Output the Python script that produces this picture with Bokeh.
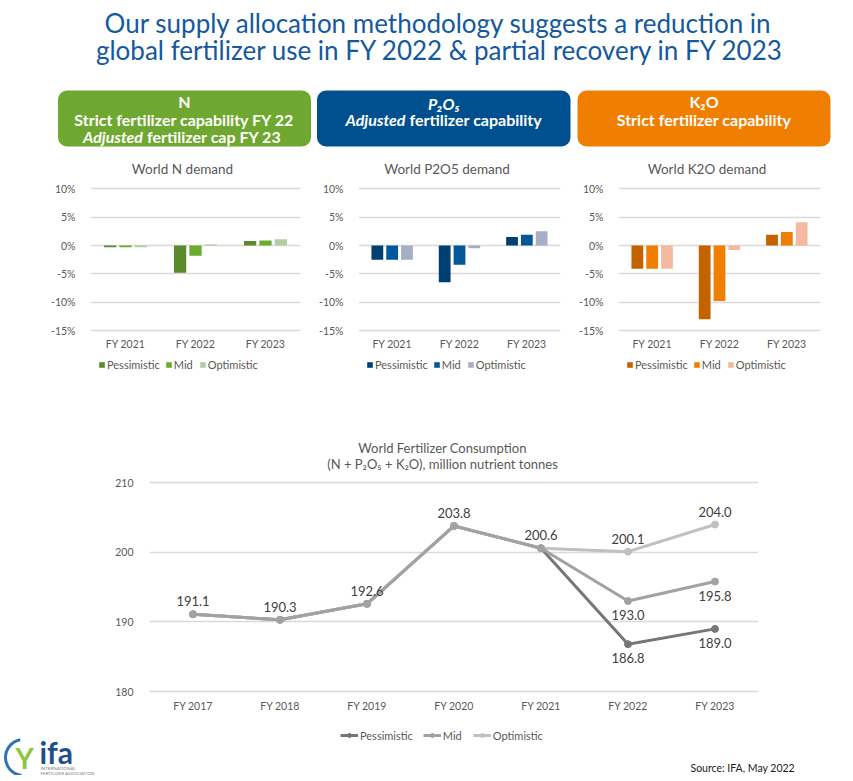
from bokeh.plotting import figure
from bokeh.models import (ColumnDataSource, FactorRange, Range1d, Legend, LegendItem,
                          Title, LabelSet, FixedTicker, PrintfTickFormatter)
from bokeh.layouts import row
from bokeh.transform import dodge
from bokeh.core.properties import value
from bokeh.embed import file_html
from bokeh.resources import INLINE

FONT = "Lato"
GREY_TXT = "#595959"
GRID = "#d9d9d9"

# ---------------- data ----------------
headline = ["Our supply allocation methodology suggests a reduction in",
            "global fertilizer use in FY 2022 & partial recovery in FY 2023"]

bar_years = ["FY 2021", "FY 2022", "FY 2023"]
scenarios = ["Pessimistic", "Mid", "Optimistic"]
pct_ticks = [-15, -10, -5, 0, 5, 10]

n_pess = [-0.3, -4.8, 0.8]
n_mid = [-0.3, -1.8, 0.9]
n_opt = [-0.3, 0.2, 1.1]

p_pess = [-2.5, -6.5, 1.5]
p_mid = [-2.5, -3.4, 1.9]
p_opt = [-2.5, -0.5, 2.5]

k_pess = [-4.1, -13.0, 1.9]
k_mid = [-4.1, -9.8, 2.4]
k_opt = [-4.1, -0.8, 4.1]

line_years = ["FY 2017", "FY 2018", "FY 2019", "FY 2020", "FY 2021", "FY 2022", "FY 2023"]
cons_pess = [191.1, 190.3, 192.6, 203.8, 200.6, 186.8, 189.0]
cons_mid = [191.1, 190.3, 192.6, 203.8, 200.6, 193.0, 195.8]
cons_opt = [191.1, 190.3, 192.6, 203.8, 200.6, 200.1, 204.0]
cons_ticks = [180, 190, 200, 210]
line_title = ["World Fertilizer Consumption",
              "(N + P\u2082O\u2085 + K\u2082O), million nutrient tonnes"]
source_text = "Source: IFA, May 2022"

# ---------------- header (title + coloured boxes) ----------------
hdr = figure(width=850, height=155, x_range=Range1d(0, 850), y_range=Range1d(155, 0),
             output_backend="svg", toolbar_location=None, x_axis_location=None,
             y_axis_location=None, min_border=0, outline_line_color=None, title=None,
             frame_align=False)
hdr.grid.visible = False

hdr.text(x=[438, 440], y=[22, 49], text=headline, text_font=value(FONT),
         text_font_size="26px", text_color="#14599d", text_align="center",
         text_baseline="middle")

hdr.quad(left=[57.5, 316.5, 577], right=[310.5, 570, 830], top=[90, 90, 90],
         bottom=[146, 146, 146], fill_color=["#6fa830", "#00508f", "#f07e00"],
         line_color=None, border_radius=9)


def htext(x, y, t, style="bold", align="center"):
    hdr.text(x=[x], y=[y], text=[t], text_font=value(FONT), text_font_size="16px",
             text_font_style=style, text_color="white", text_align=align,
             text_baseline="middle")


htext(184, 101, "N")
htext(184, 118.5, "Strict fertilizer capability FY 22")
htext(142.5, 136, "Adjusted", "bold italic", "right")
htext(146.5, 136, "fertilizer cap FY 23", "bold", "left")
htext(443.5, 102.5, "P\u2082O\u2085", "bold italic")
htext(405, 118.5, "Adjusted", "bold italic", "right")
htext(409, 118.5, "fertilizer capability", "bold", "left")
htext(703.5, 101, "K\u2082O")
htext(703.5, 118.5, "Strict fertilizer capability")


# ---------------- bar charts ----------------
# the frame covers the whole figure height (page y 155..385); 0% sits at page y 245
def bar_y(page_y):
    return (245.0 - page_y) / 5.668


def bar_chart(title, pess, mid, opt, colors, left):
    src = ColumnDataSource(dict(year=bar_years, pess=pess, mid=mid, opt=opt))
    p = figure(width=left + 226, height=230, x_range=FactorRange(*bar_years),
               y_range=Range1d(bar_y(385), bar_y(155)), output_backend="svg",
               toolbar_location=None, x_axis_location=None,
               min_border_left=left, min_border_right=16, min_border_top=0,
               min_border_bottom=0, outline_line_color=None, title=None,
               frame_align=False)
    rs = []
    for key, off, col in zip(["pess", "mid", "opt"], [-0.22, 0.0, 0.22], colors):
        r = p.vbar(x=dodge("year", off, range=p.x_range), top=key, bottom=0,
                   width=0.175, source=src, fill_color=col, line_color=None)
        rs.append(r)
    # chart title and category labels
    p.text(x=[1.5 - 13 / 70], y=[bar_y(168)], text=[title], text_font=value(FONT),
           text_font_size="13.5px", text_color=GREY_TXT, text_align="center",
           text_baseline="middle")
    p.text(x=bar_years, y=[bar_y(343)] * 3, text=bar_years, text_font=value(FONT),
           text_font_size="10.5px", text_color=GREY_TXT, text_align="center",
           text_baseline="middle")
    p.yaxis.ticker = FixedTicker(ticks=pct_ticks)
    p.yaxis.formatter = PrintfTickFormatter(format="%d%%")
    p.yaxis.axis_line_color = None
    p.yaxis.major_tick_line_color = None
    p.yaxis.minor_tick_line_color = None
    p.yaxis.major_label_text_font = FONT
    p.yaxis.major_label_text_font_size = "10.5px"
    p.yaxis.major_label_text_color = GREY_TXT
    p.yaxis.major_label_standoff = 9
    p.xgrid.visible = False
    p.ygrid.grid_line_color = GRID
    p.ygrid.grid_line_width = 1.5
    leg = Legend(items=[LegendItem(label=s, renderers=[r]) for s, r in zip(scenarios, rs)],
                 orientation="horizontal", location=(8, 14), glyph_width=7,
                 glyph_height=7, label_text_font=FONT, label_text_font_size="11px",
                 label_text_color=GREY_TXT, spacing=5, padding=0, margin=0,
                 border_line_color=None, background_fill_alpha=0, label_standoff=2,
                 label_height=14)
    p.add_layout(leg, "center")
    return p


f_n = bar_chart("World N demand", n_pess, n_mid, n_opt, ["#5a8a2c", "#6cab2e", "#b3cfa2"], 90)
f_p = bar_chart("World P2O5 demand", p_pess, p_mid, p_opt, ["#003f72", "#00579a", "#a4aec4"], 34)
f_k = bar_chart("World K2O demand", k_pess, k_mid, k_opt, ["#c46200", "#f07e00", "#f5b8a0"], 34)
bars = row(f_n, f_p, f_k)


# ---------------- line chart ----------------
# frame covers page y 385..759 and page x 149..758; 180 sits at page y 691
def ln_x(page_x):
    return (page_x - 149.0) / 87.0


def ln_y(page_y):
    return 180 + (691.0 - page_y) / 6.957


lp = figure(width=750, height=390, x_range=FactorRange(*line_years),
            y_range=Range1d(ln_y(759), ln_y(385)), output_backend="svg",
            toolbar_location=None, x_axis_location=None,
            min_border_left=49, min_border_right=92, min_border_top=0,
            min_border_bottom=16, outline_line_color=None, title=None, frame_align=False)

line_cols = {"Pessimistic": "#767676", "Mid": "#a2a2a2", "Optimistic": "#c0c0c0"}
line_vals = {"Pessimistic": cons_pess, "Mid": cons_mid, "Optimistic": cons_opt}
rend = {}
for name in ["Pessimistic", "Optimistic", "Mid"]:
    c = line_cols[name]
    l = lp.line(x=line_years, y=line_vals[name], line_width=3, line_color=c)
    s = lp.scatter(x=line_years, y=line_vals[name], size=7, fill_color=c, line_color=c)
    rend[name] = [l, s]

lab_x = line_years[:5] + line_years[5:] * 3
lab_y = cons_mid[:5] + cons_opt[5:] + cons_mid[5:] + cons_pess[5:]
lab_off = [13] * 7 + [-14] * 4
lab_src = ColumnDataSource(dict(x=lab_x, y=lab_y, t=["%.1f" % v for v in lab_y], off=lab_off))
lp.add_layout(LabelSet(x="x", y="y", text="t", y_offset="off", source=lab_src,
                       text_align="center", text_baseline="middle",
                       text_font=value(FONT), text_font_size="13px", text_color="#404040"))

lp.text(x=[ln_x(442)] * 2, y=[ln_y(447), ln_y(463)], text=line_title, text_font=value(FONT),
        text_font_size="13px", text_color=GREY_TXT, text_align="center",
        text_baseline="middle")
lp.text(x=line_years, y=[ln_y(705)] * len(line_years), text=line_years,
        text_font=value(FONT), text_font_size="10.5px", text_color=GREY_TXT,
        text_align="center", text_baseline="middle")

lp.yaxis.ticker = FixedTicker(ticks=cons_ticks)
lp.yaxis.axis_line_color = None
lp.yaxis.major_tick_line_color = None
lp.yaxis.minor_tick_line_color = None
lp.yaxis.major_label_text_font = FONT
lp.yaxis.major_label_text_font_size = "10.5px"
lp.yaxis.major_label_text_color = GREY_TXT
lp.yaxis.major_label_standoff = 10
lp.xgrid.visible = False
lp.ygrid.grid_line_color = GRID
lp.ygrid.grid_line_width = 1.5

lleg = Legend(items=[LegendItem(label=n, renderers=rend[n]) for n in ["Pessimistic", "Mid", "Optimistic"]],
              orientation="horizontal", location=(191, 17), glyph_width=18, glyph_height=10,
              label_text_font=FONT, label_text_font_size="11px", label_text_color=GREY_TXT,
              spacing=10, padding=0, margin=0, border_line_color=None,
              background_fill_alpha=0, label_standoff=2, label_height=14)
lp.add_layout(lleg, "center")

lp.add_layout(Title(text=source_text, align="left", offset=541, standoff=0,
                    text_font=FONT, text_font_size="10.5px", text_font_style="normal",
                    text_color="#1a1a1a"), "below")

# ---------------- logo (bottom-left) ----------------
logo = figure(width=100, height=390, x_range=Range1d(0, 100), y_range=Range1d(775, 385),
              output_backend="svg", toolbar_location=None, x_axis_location=None,
              y_axis_location=None, min_border=0, outline_line_color=None, title=None,
              frame_align=False)
logo.grid.visible = False
logo.arc(x=[23], y=[757], radius=18, start_angle=1.75, end_angle=4.6,
         line_color="#2f74b5", line_width=3)
logo.text(x=[24], y=[757], text=["Y"], text_font=value(FONT), text_font_size="28px",
          text_font_style="bold", text_color="#8dc63f", text_align="center",
          text_baseline="middle")
logo.text(x=[39], y=[751], text=["ifa"], text_font=value(FONT), text_font_size="30px",
          text_font_style="bold", text_color="#1f4e8c", text_align="left",
          text_baseline="middle")
logo.text(x=[40, 40], y=[768, 773], text=["INTERNATIONAL", "FERTILIZER ASSOCIATION"],
          text_font=value(FONT), text_font_size="4.5px", text_color="#7f7f7f",
          text_align="left", text_baseline="middle")

bottom = row(logo, lp)

p = [hdr, bars, bottom]
open("out.html", "w").write(file_html(p, INLINE))
